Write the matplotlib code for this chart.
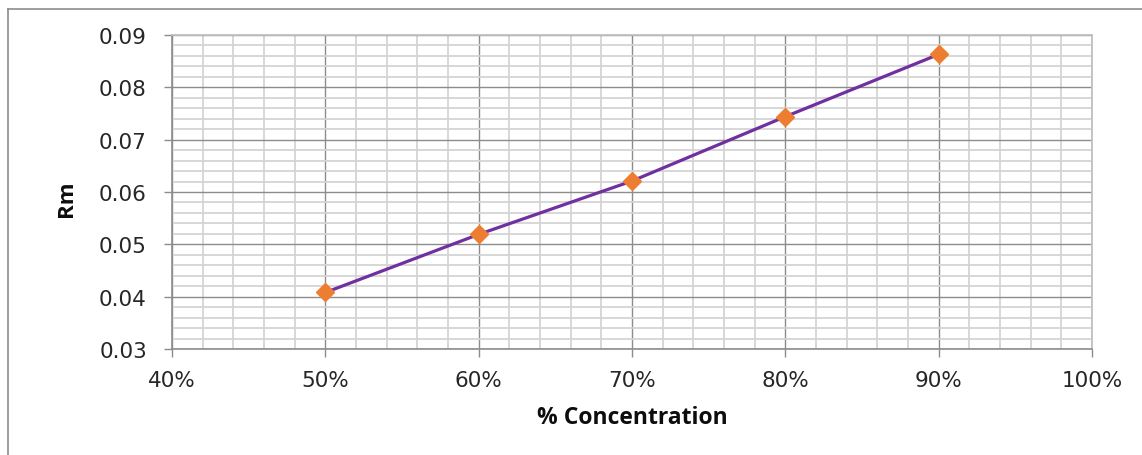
import matplotlib
matplotlib.use("Agg")
import matplotlib.pyplot as plt
from matplotlib.lines import Line2D
from matplotlib.ticker import MultipleLocator, PercentFormatter, FormatStrFormatter

# Rm measured against concentration
concentration = [0.50, 0.60, 0.70, 0.80, 0.90]
rm_values = [0.0408, 0.0519, 0.0621, 0.0744, 0.0863]

x_label = "% Concentration"
y_label = "Rm"

W, H = 1142, 456
fig = plt.figure(figsize=(W / 100, H / 100), dpi=100)
ax = fig.add_axes([172 / W, 1 - 350 / H, (1092 - 172) / W, (350 - 36) / H])

ax.set_xlim(0.40, 1.00)
ax.set_ylim(0.03, 0.09)
ax.xaxis.set_major_locator(MultipleLocator(0.10))
ax.xaxis.set_minor_locator(MultipleLocator(0.02))
ax.yaxis.set_major_locator(MultipleLocator(0.01))
ax.yaxis.set_minor_locator(MultipleLocator(0.002))
ax.xaxis.set_major_formatter(PercentFormatter(1.0, decimals=0))
ax.yaxis.set_major_formatter(FormatStrFormatter("%.2f"))

ax.grid(which="minor", color="#d4d4d4", linewidth=1.3)
ax.grid(which="major", color="#8c8c8c", linewidth=1.0)
ax.set_axisbelow(True)

for side in ("top", "right"):
    ax.spines[side].set_color("#c0c0c0")
    ax.spines[side].set_linewidth(1.3)
for side in ("left", "bottom"):
    ax.spines[side].set_color("#8c8c8c")
    ax.spines[side].set_linewidth(1.2)

ax.tick_params(which="major", direction="out", length=6, width=1.0,
               color="#8c8c8c", labelsize=15.5, labelcolor="#262626")
ax.tick_params(axis="y", which="major", pad=12)
ax.tick_params(axis="x", which="major", pad=9)
ax.tick_params(which="minor", length=0)
for lab in ax.get_xticklabels() + ax.get_yticklabels():
    lab.set_family("DejaVu Sans")

ax.plot(concentration, rm_values, color="#7030a0", linewidth=2.3,
        marker="D", markersize=9, markerfacecolor="#ed7d31",
        markeredgecolor="#ed7d31", zorder=3, clip_on=False)

fig.text(632 / W, 1 - 418 / H, x_label, ha="center", va="center",
         fontsize=16.5, fontweight="bold", family="Open Sans", color="#0d0d0d")
fig.text(66 / W, 1 - 199 / H, y_label, ha="center", va="center", rotation=90,
         fontsize=16, fontweight="bold", family="Open Sans", color="#0d0d0d")

# chart frame
fig.add_artist(Line2D([8 / W, 1.0], [1 - 10 / H, 1 - 10 / H],
                      transform=fig.transFigure, color="#8c8c8c", linewidth=1.2))
fig.add_artist(Line2D([8 / W, 8 / W], [0.0, 1 - 10 / H],
                      transform=fig.transFigure, color="#8c8c8c", linewidth=1.2))

fig.savefig("out.png", dpi=100)
